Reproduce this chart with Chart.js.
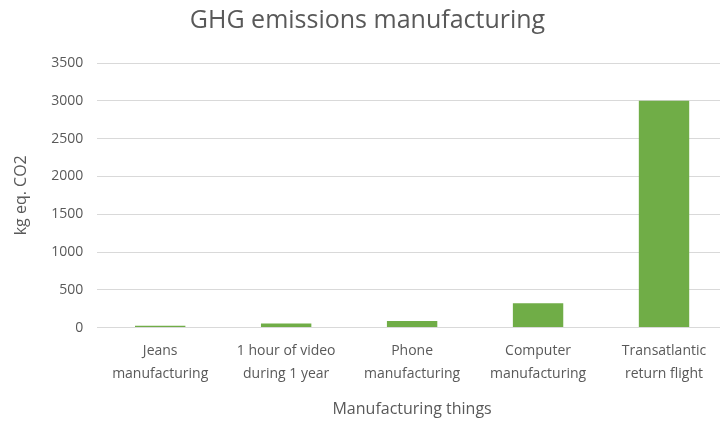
<!DOCTYPE html>
<html>
<head>
<meta charset="utf-8">
<script src="https://cdn.jsdelivr.net/npm/chart.js@4/dist/chart.umd.min.js"></script>
<style>
  html, body { margin: 0; padding: 0; background: #fff; overflow: hidden; }
  /* the reference is cropped slightly on the right, so the chart is a bit wider than the window */
  #wrap { width: 730px; height: 421px; position: relative; }
</style>
</head>
<body>
<div id="wrap"><canvas id="ghgChart"></canvas></div>
<script>
// chart data
const categories = [
  ['Jeans', 'manufacturing'],
  ['1 hour of video', 'during 1 year'],
  ['Phone', 'manufacturing'],
  ['Computer', 'manufacturing'],
  ['Transatlantic', 'return flight']
];
const emissions = [25, 55, 88, 322, 3000];
const yTicks = [0, 500, 1000, 1500, 2000, 2500, 3000, 3500];

const textGrey = '#595959';
const fontFamily = '"Open Sans", "Liberation Sans", sans-serif';

const ctx = document.getElementById('ghgChart').getContext('2d');
new Chart(ctx, {
  type: 'bar',
  data: {
    labels: categories,
    datasets: [{
      label: 'kg eq. CO2',
      data: emissions,
      backgroundColor: '#70ad47',
      borderWidth: 0,
      barPercentage: 1,
      categoryPercentage: 0.4
    }]
  },
  options: {
    responsive: true,
    maintainAspectRatio: false,
    animation: false,
    layout: { padding: { top: 6, right: 3, left: 8, bottom: 0 } },
    plugins: {
      legend: { display: false },
      tooltip: { enabled: false },
      title: {
        display: true,
        text: 'GHG emissions manufacturing',
        color: textGrey,
        font: { family: fontFamily, size: 25, weight: 'normal' },
        padding: { top: 0, bottom: 27 }
      }
    },
    scales: {
      x: {
        grid: { display: false, drawTicks: false },
        border: { display: false },
        ticks: {
          color: textGrey,
          font: { family: fontFamily, size: 14, lineHeight: 1.65 },
          maxRotation: 0,
          padding: 12
        },
        title: {
          display: true,
          text: 'Manufacturing things',
          color: textGrey,
          font: { family: fontFamily, size: 16 },
          padding: { top: 2, bottom: 2 }
        }
      },
      y: {
        min: 0,
        max: yTicks[yTicks.length - 1],
        afterBuildTicks: (axis) => { axis.ticks = yTicks.map(v => ({ value: v })); },
        grid: { color: '#d9d9d9', drawTicks: false },
        border: { display: false },
        ticks: {
          color: textGrey,
          font: { family: fontFamily, size: 14 },
          padding: 14,
          callback: (v) => String(v)
        },
        title: {
          display: true,
          text: 'kg eq. CO2',
          color: textGrey,
          font: { family: fontFamily, size: 16 },
          padding: { bottom: 6 }
        }
      }
    }
  }
});
</script>
</body>
</html>
